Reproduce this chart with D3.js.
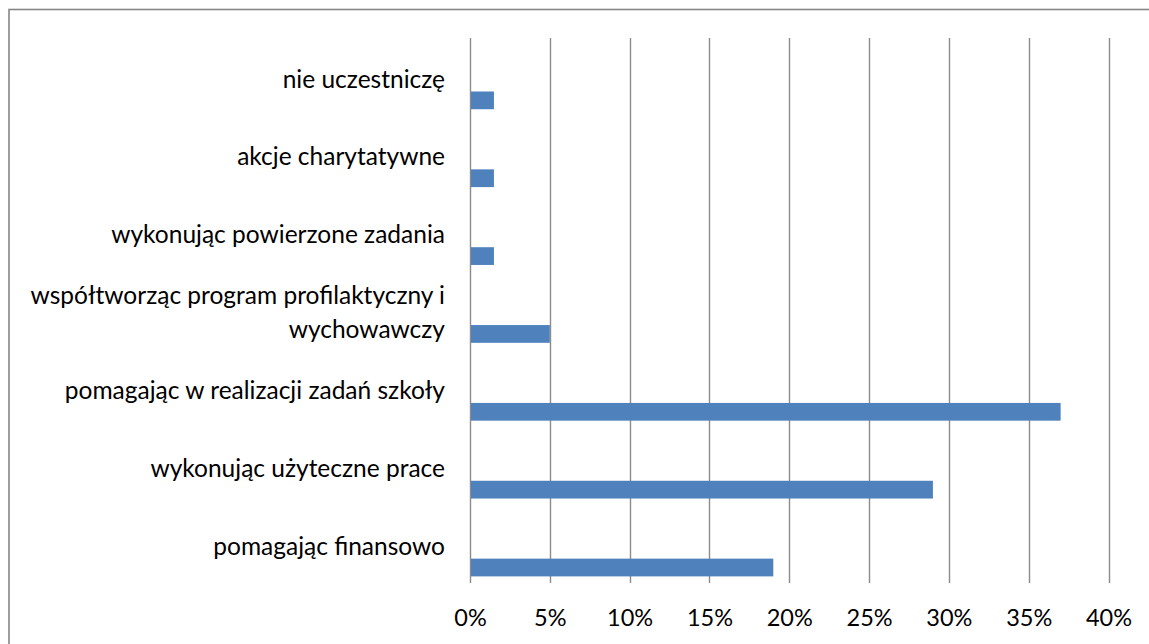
<!DOCTYPE html>
<html><head><meta charset="utf-8">
<script src="https://cdn.jsdelivr.net/npm/d3@7"></script>
<style>
html,body{margin:0;padding:0;background:#fff;}
svg{display:block;}
text{font-family:Lato, "Open Sans", sans-serif;fill:#000;}
</style></head>
<body>
<svg id="chart" width="1149" height="644"></svg>
<script>
const categories = [
  "nie uczestniczę",
  "akcje charytatywne",
  "wykonując powierzone zadania",
  "współtworząc program profilaktyczny i|wychowawczy",
  "pomagając w realizacji zadań szkoły",
  "wykonując użyteczne prace",
  "pomagając finansowo"
];
const values = [1.5, 1.5, 1.5, 5, 37, 29, 19];
const tickValues = [0, 5, 10, 15, 20, 25, 30, 35, 40];

const svg = d3.select("#chart");
const W = 1149, H = 644;
const plot = {left: 470, right: 1108.5, top: 38, bottom: 583};

svg.append("rect").attr("x", 9).attr("y", 9.5).attr("width", W + 20).attr("height", H + 20)
  .attr("fill", "#fff").attr("stroke", "#868686").attr("stroke-width", 1.6);

const x = d3.scaleLinear().domain([0, 40]).range([plot.left, plot.right]);
const y = d3.scaleBand().domain(categories).range([plot.top, plot.bottom]);

// gridlines
svg.append("g").selectAll("line").data(tickValues).join("line")
  .attr("x1", d => Math.round(x(d)) + 0.5).attr("x2", d => Math.round(x(d)) + 0.5)
  .attr("y1", plot.top).attr("y2", plot.bottom)
  .attr("stroke", "#8c8c8c").attr("stroke-width", 1.4);

// bars
const bw = y.bandwidth();
svg.append("g").selectAll("rect").data(categories).join("rect")
  .attr("x", x(0) + 1)
  .attr("y", d => y(d) + bw * 0.687)
  .attr("width", (d, i) => x(values[i]) - x(0) - 1)
  .attr("height", bw * 0.228)
  .attr("fill", "#4f81bd");

// category labels
const lab = svg.append("g").selectAll("text").data(categories).join("text")
  .attr("text-anchor", "end")
  .style("font-size", "24.5px");
lab.each(function(d) {
  const lines = d.split("|");
  const t = d3.select(this);
  const cy = y(d) + bw / 2 + 2;
  const lh = 34;
  lines.forEach((ln, j) => {
    t.append("tspan").attr("x", 445)
      .attr("y", cy - (lines.length - 1) * lh / 2 + j * lh)
      .attr("dy", "0.35em").text(ln);
  });
});

// x axis tick labels
const axis = d3.axisBottom(x).tickValues(tickValues).tickFormat(d => d + "%").tickSize(0).tickPadding(0);
const ag = svg.append("g").attr("transform", `translate(0, 618)`).call(axis);
ag.select(".domain").remove();
ag.selectAll("text").attr("dy", "0.35em").attr("y", 0)
  .style("font-size", "23.5px").style("font-family", "Lato, 'Open Sans', sans-serif").attr("fill", "#000");
</script>
</body></html>
